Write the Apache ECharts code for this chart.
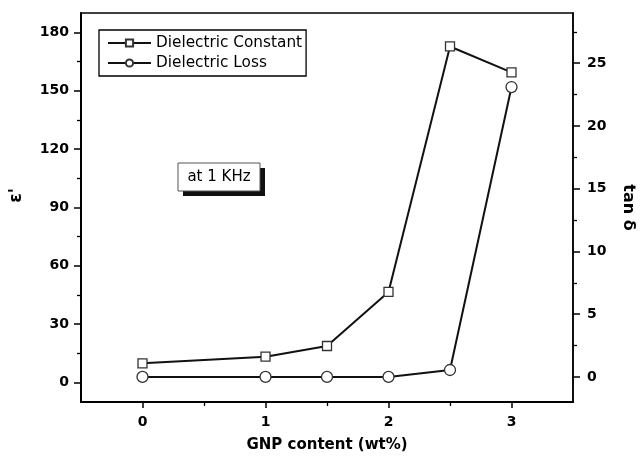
<!DOCTYPE html>
<html>
<head>
<meta charset="utf-8">
<script src="https://cdn.jsdelivr.net/npm/echarts@6/dist/echarts.min.js"></script>
<style>
  html, body { margin: 0; padding: 0; background: #fff; }
  #chart { width: 644px; height: 458px; }
</style>
</head>
<body>
<div id="chart"></div>
<script>
// GNP loading (wt%) and measured dielectric response at 1 kHz
const gnpContent = [0, 1, 1.5, 2, 2.5, 3];
const dielectricConstant = [9.9, 13.3, 18.8, 46.6, 172.8, 159.5];
const dielectricLoss = [0, 0, 0, 0, 0.55, 23.1];

// Tick positions
const xMajorTicks = [0, 1, 2, 3];
const xMinorTicks = [0.5, 1.5, 2.5];
const epsMajorTicks = [0, 30, 60, 90, 120, 150, 180];
const epsMinorTicks = [15, 45, 75, 105, 135, 165];
const tanMajorTicks = [0, 5, 10, 15, 20, 25];
const tanMinorTicks = [2.5, 7.5, 12.5, 17.5, 22.5, 27.5];

const FONT = '"DejaVu Sans", Arial, sans-serif';
const tickLabel = { color: '#000', fontFamily: FONT, fontWeight: 'bold', fontSize: 14 };

const chart = echarts.init(document.getElementById('chart'), null, { renderer: 'canvas' });

const xRange = { min: -0.5, max: 3.5 };
const epsRange = { min: -10, max: 190 };
const tanRange = { min: -2, max: 29 };

function minorAxis(base, pos, values, len) {
  return Object.assign({}, base, {
    type: 'value', position: pos,
    axisLine: { show: false, onZero: false },
    axisTick: { show: true, customValues: values, length: len, lineStyle: { color: '#000', width: 1.3 } },
    axisLabel: { show: false },
    splitLine: { show: false }
  });
}

chart.setOption({
  animation: false,
  backgroundColor: '#fff',
  grid: {
    left: 81, right: 68, top: 13, bottom: 54,
    show: true, borderColor: '#000', borderWidth: 1.5, backgroundColor: 'transparent'
  },
  legend: {
    orient: 'vertical',
    left: 99, top: 30,
    padding: [3, 4, 3, 8],
    itemGap: 0,
    itemWidth: 43,
    itemHeight: 9,
    borderColor: '#000',
    borderWidth: 1.3,
    backgroundColor: '#fff',
    textStyle: { color: '#000', fontFamily: FONT, fontSize: 15.3, lineHeight: 20 },
    data: ['Dielectric Constant', 'Dielectric Loss']
  },
  xAxis: [
    Object.assign({}, xRange, {
      type: 'value', position: 'bottom',
      name: 'GNP content (wt%)', nameLocation: 'middle', nameGap: 36,
      nameTextStyle: { color: '#000', fontFamily: FONT, fontWeight: 'bold', fontSize: 15 },
      axisLine: { show: true, onZero: false, lineStyle: { color: '#000', width: 2 } },
      axisTick: { show: true, customValues: xMajorTicks, length: 6, lineStyle: { color: '#000', width: 1.5 } },
      axisLabel: Object.assign({ customValues: xMajorTicks, margin: 13 }, tickLabel),
      splitLine: { show: false }
    }),
    minorAxis(xRange, 'bottom', xMinorTicks, 4)
  ],
  yAxis: [
    Object.assign({}, epsRange, {
      type: 'value', position: 'left',
      name: "ε'", nameLocation: 'middle', nameRotate: 90, nameGap: 56,
      nameTextStyle: { color: '#000', fontFamily: FONT, fontWeight: 'bold', fontSize: 17, padding: [0, 0, 0, 24] },
      axisLine: { show: true, onZero: false, lineStyle: { color: '#000', width: 2 } },
      axisTick: { show: true, customValues: epsMajorTicks, length: 7, lineStyle: { color: '#000', width: 1.5 } },
      axisLabel: Object.assign({ customValues: epsMajorTicks, margin: 12 }, tickLabel),
      splitLine: { show: false }
    }),
    Object.assign({}, tanRange, {
      type: 'value', position: 'right',
      name: 'tan δ', nameLocation: 'middle', nameRotate: -90, nameGap: 47,
      nameTextStyle: { color: '#000', fontFamily: FONT, fontWeight: 'bold', fontSize: 16 },
      axisLine: { show: true, onZero: false, lineStyle: { color: '#000', width: 1.5 } },
      axisTick: { show: true, customValues: tanMajorTicks, length: 7, lineStyle: { color: '#000', width: 1.5 } },
      axisLabel: Object.assign({ customValues: tanMajorTicks, margin: 14 }, tickLabel),
      splitLine: { show: false }
    }),
    minorAxis(epsRange, 'left', epsMinorTicks, 4),
    minorAxis(tanRange, 'right', tanMinorTicks, 4)
  ],
  graphic: [
    { type: 'rect', z: 50, shape: { x: 183, y: 168, width: 82, height: 28 }, style: { fill: '#111' } },
    { type: 'rect', z: 51, shape: { x: 178, y: 163, width: 82, height: 28 }, style: { fill: '#fff', stroke: '#555', lineWidth: 1 } },
    { type: 'text', z: 52, x: 219, y: 177,
      style: { text: 'at 1 KHz', fill: '#000', fontFamily: FONT, fontSize: 15,
               align: 'center', verticalAlign: 'middle', textAlign: 'center', textVerticalAlign: 'middle' } }
  ],
  series: [
    {
      name: 'Dielectric Constant', type: 'line',
      xAxisIndex: 0, yAxisIndex: 0,
      data: gnpContent.map((x, i) => [x, dielectricConstant[i]]),
      symbol: 'rect', symbolSize: 9, showAllSymbol: true,
      lineStyle: { color: '#111', width: 2 },
      itemStyle: { color: '#fff', borderColor: '#333', borderWidth: 1.3 },
      emphasis: { disabled: true }
    },
    {
      name: 'Dielectric Loss', type: 'line',
      xAxisIndex: 0, yAxisIndex: 1,
      data: gnpContent.map((x, i) => [x, dielectricLoss[i]]),
      symbol: 'circle', symbolSize: 11, showAllSymbol: true,
      lineStyle: { color: '#111', width: 2 },
      itemStyle: { color: '#fff', borderColor: '#333', borderWidth: 1.3 },
      emphasis: { disabled: true }
    }
  ]
});
</script>
</body>
</html>
